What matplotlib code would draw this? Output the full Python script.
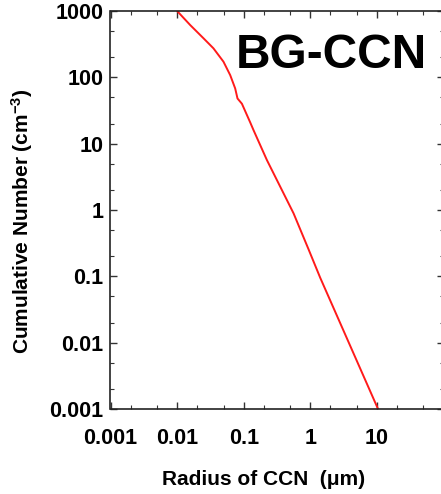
import matplotlib
matplotlib.use("Agg")
import matplotlib.pyplot as plt
from matplotlib.ticker import LogLocator, NullFormatter, FixedLocator, FixedFormatter

plt.rcParams['font.family'] = ['Liberation Sans', 'DejaVu Sans']
plt.rcParams['font.weight'] = 'bold'
plt.rcParams['mathtext.fontset'] = 'custom'
plt.rcParams['mathtext.rm'] = 'Liberation Sans:bold'
plt.rcParams['mathtext.bf'] = 'Liberation Sans:bold'
plt.rcParams['mathtext.default'] = 'bf'

# Data
radius_um = [0.0102, 0.0157, 0.0249, 0.0351, 0.0497, 0.0627, 0.0745, 0.0807, 0.094,
             0.125, 0.1404, 0.223, 0.354, 0.561, 0.942, 1.41, 10.4]
cum_number = [980, 615, 388, 274, 172, 108, 68, 48, 40,
              21, 16.0, 5.66, 2.24, 0.889, 0.255, 0.095, 0.001]

x_ticks = [0.001, 0.01, 0.1, 1, 10]
x_tick_labels = ['0.001', '0.01', '0.1', '1', '10']
y_ticks = [0.001, 0.01, 0.1, 1, 10, 100, 1000]
y_tick_labels = ['0.001', '0.01', '0.1', '1', '10', '100', '1000']

W, H = 441, 494
fig = plt.figure(figsize=(W / 100, H / 100), dpi=100)
left, right, top, bottom = 110.5, 443.5, 11, 409
ax = fig.add_axes([left / W, 1 - bottom / H, (right - left) / W, (bottom - top) / H])

ax.plot(radius_um, cum_number, color='#ff1a1a', lw=1.4)
ax.set_xscale('log')
ax.set_yscale('log')
ax.set_xlim(0.001, 100)
ax.set_ylim(0.001, 1000)

ax.xaxis.set_major_locator(FixedLocator(x_ticks))
ax.xaxis.set_major_formatter(FixedFormatter(x_tick_labels))
ax.yaxis.set_major_locator(FixedLocator(y_ticks))
ax.yaxis.set_major_formatter(FixedFormatter(y_tick_labels))
ax.xaxis.set_minor_locator(LogLocator(base=10, subs=(2, 5)))
ax.yaxis.set_minor_locator(LogLocator(base=10, subs=(2, 5)))
ax.xaxis.set_minor_formatter(NullFormatter())
ax.yaxis.set_minor_formatter(NullFormatter())

ax.tick_params(which='both', direction='in', top=True, right=True, color='#333333')
ax.tick_params(which='major', length=5, width=1)
ax.tick_params(which='minor', length=3, width=0.8)
ax.tick_params(axis='x', which='major', pad=14, labelsize=15.5)
ax.tick_params(axis='y', which='major', pad=5, labelsize=15.5)
for lab in ax.get_xticklabels() + ax.get_yticklabels():
    lab.set_fontweight('bold')
for s in ax.spines.values():
    s.set_linewidth(1.2)
    s.set_color('#222222')

ax.set_xlabel('Radius of CCN  (\u03bcm)', fontsize=15, fontweight='bold')
ax.set_ylabel(r'Cumulative Number (cm$^{-3}$)', fontsize=15, fontweight='bold')
ax.xaxis.set_label_coords((264 - left) / (right - left), (bottom - 470) / (bottom - top))
ax.yaxis.set_label_coords((35 - left) / (right - left), (bottom - 221) / (bottom - top))

ax.text((236 - left) / (right - left), (bottom - 68) / (bottom - top), 'BG-CCN',
        transform=ax.transAxes, fontsize=34.5, fontweight='bold', ha='left', va='baseline')

fig.savefig('out.png', dpi=100)
